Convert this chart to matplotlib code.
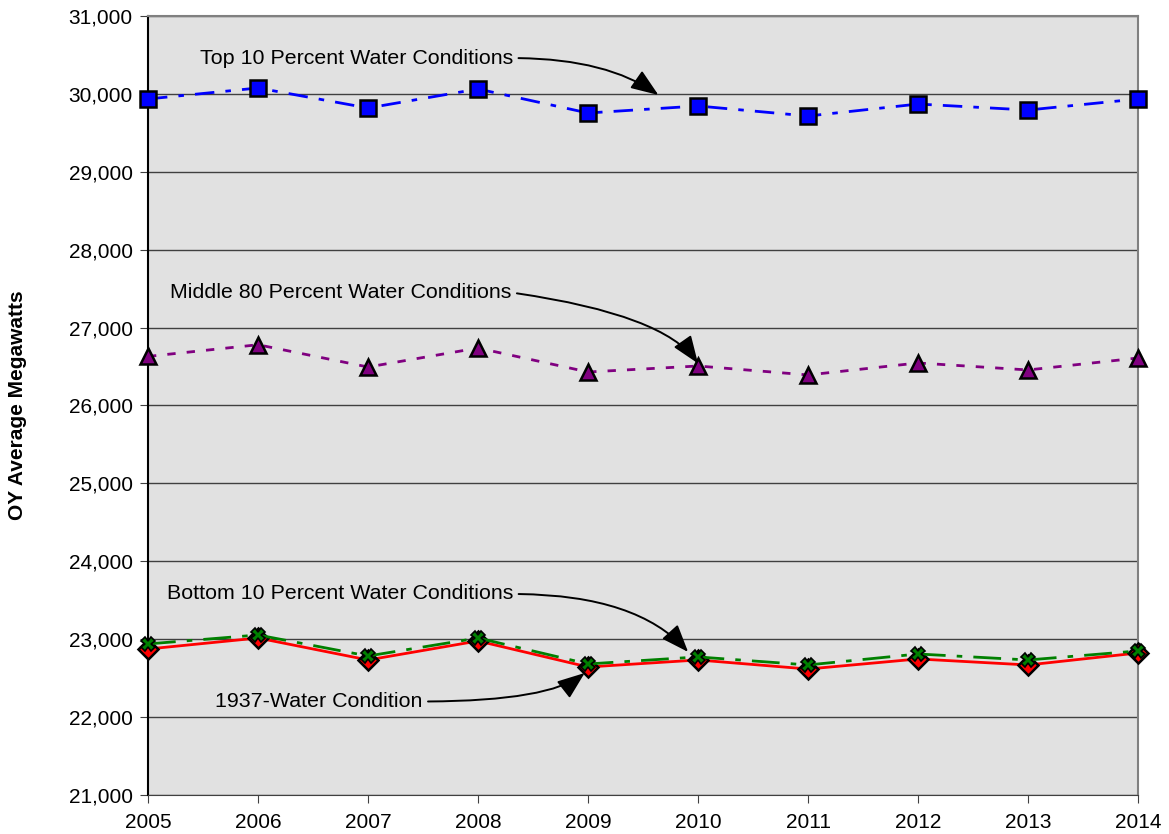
import matplotlib
matplotlib.use("Agg")
import matplotlib.pyplot as plt

years = [2005, 2006, 2007, 2008, 2009, 2010, 2011, 2012, 2013, 2014]
top10 = [29935, 30076, 29819, 30063, 29755, 29845, 29716, 29870, 29793, 29935]
middle80 = [26630, 26780, 26494, 26738, 26430, 26507, 26392, 26546, 26456, 26610]
bottom10 = [22939, 23054, 22784, 23015, 22682, 22772, 22669, 22810, 22733, 22849]
w1937 = [22874, 23015, 22733, 22977, 22643, 22733, 22617, 22746, 22669, 22823]
yticks = list(range(21000, 31001, 1000))

plt.rcParams['font.family'] = ['Liberation Sans', 'DejaVu Sans']
FS = 15
AFS = 15.4

fig = plt.figure(figsize=(11.69, 8.34), dpi=100)
ax = fig.add_axes([0.1266, 0.0468, 0.8469, 0.934])
ax.set_facecolor('#E1E1E1')

ax.plot(years, w1937, color='#FF0000', lw=2, ls='-', marker='D', ms=10,
        mfc='#FF0000', mec='black', mew=1.8, clip_on=False, zorder=3)
ax.plot(years, bottom10, color='#008000', lw=2, dashes=[10, 4, 2, 4], marker='X', ms=10,
        mfc='#008000', mec='black', mew=1.2, clip_on=False, zorder=4)
ax.plot(years, middle80, color='#800080', lw=2, dashes=[3, 4], marker='^', ms=11,
        mfc='#800080', mec='black', mew=1.8, clip_on=False, zorder=3)
ax.plot(years, top10, color='#0000FF', lw=2, dashes=[7, 4, 2, 4], marker='s', ms=11,
        mfc='#0000FF', mec='black', mew=1.8, clip_on=False, zorder=3)

ax.set_xlim(2005, 2014)
ax.set_ylim(21000, 31000)
ax.set_xticks(years)
ax.set_yticks(yticks)
ax.set_yticklabels([f"{v:,}" for v in yticks])
ax.yaxis.grid(True, color='#404040', lw=1)
ax.set_axisbelow(True)
ax.tick_params(axis='both', labelsize=FS, direction='out', length=6, color='#404040')
ax.tick_params(axis='x', pad=7)
ax.tick_params(axis='y', pad=5)
for s in ['top', 'right']:
    ax.spines[s].set_color('#808080')
    ax.spines[s].set_linewidth(1.5)
ax.spines['left'].set_color('black')
ax.spines['bottom'].set_color('#404040')
ax.spines['left'].set_linewidth(1.5)
ax.set_ylabel('OY Average Megawatts', fontsize=FS, fontweight='bold', labelpad=30)

arrowprops = dict(arrowstyle='-|>,head_length=1.1,head_width=0.42', color='black', lw=1.4,
                  relpos=(1.0, 0.5), shrinkA=2, shrinkB=0)
ax.annotate('Top 10 Percent Water Conditions', xy=(2009.64, 29986), xytext=(2005.47, 30460),
            fontsize=AFS, va='center', ha='left',
            arrowprops=dict(arrowprops, connectionstyle='angle3,angleA=0,angleB=-35'))
ax.annotate('Middle 80 Percent Water Conditions', xy=(2010.0, 26540), xytext=(2005.2, 27450),
            fontsize=AFS, va='center', ha='left',
            arrowprops=dict(arrowprops, connectionstyle='angle3,angleA=-8,angleB=-55'))
ax.annotate('Bottom 10 Percent Water Conditions', xy=(2009.91, 22836), xytext=(2005.17, 23580),
            fontsize=AFS, va='center', ha='left',
            arrowprops=dict(arrowprops, connectionstyle='angle3,angleA=0,angleB=-48'))
ax.annotate('1937-Water Condition', xy=(2008.97, 22566), xytext=(2005.61, 22200),
            fontsize=AFS, va='center', ha='left',
            arrowprops=dict(arrowprops, connectionstyle='angle3,angleA=0,angleB=38'))

fig.savefig('out.png', dpi=100)
